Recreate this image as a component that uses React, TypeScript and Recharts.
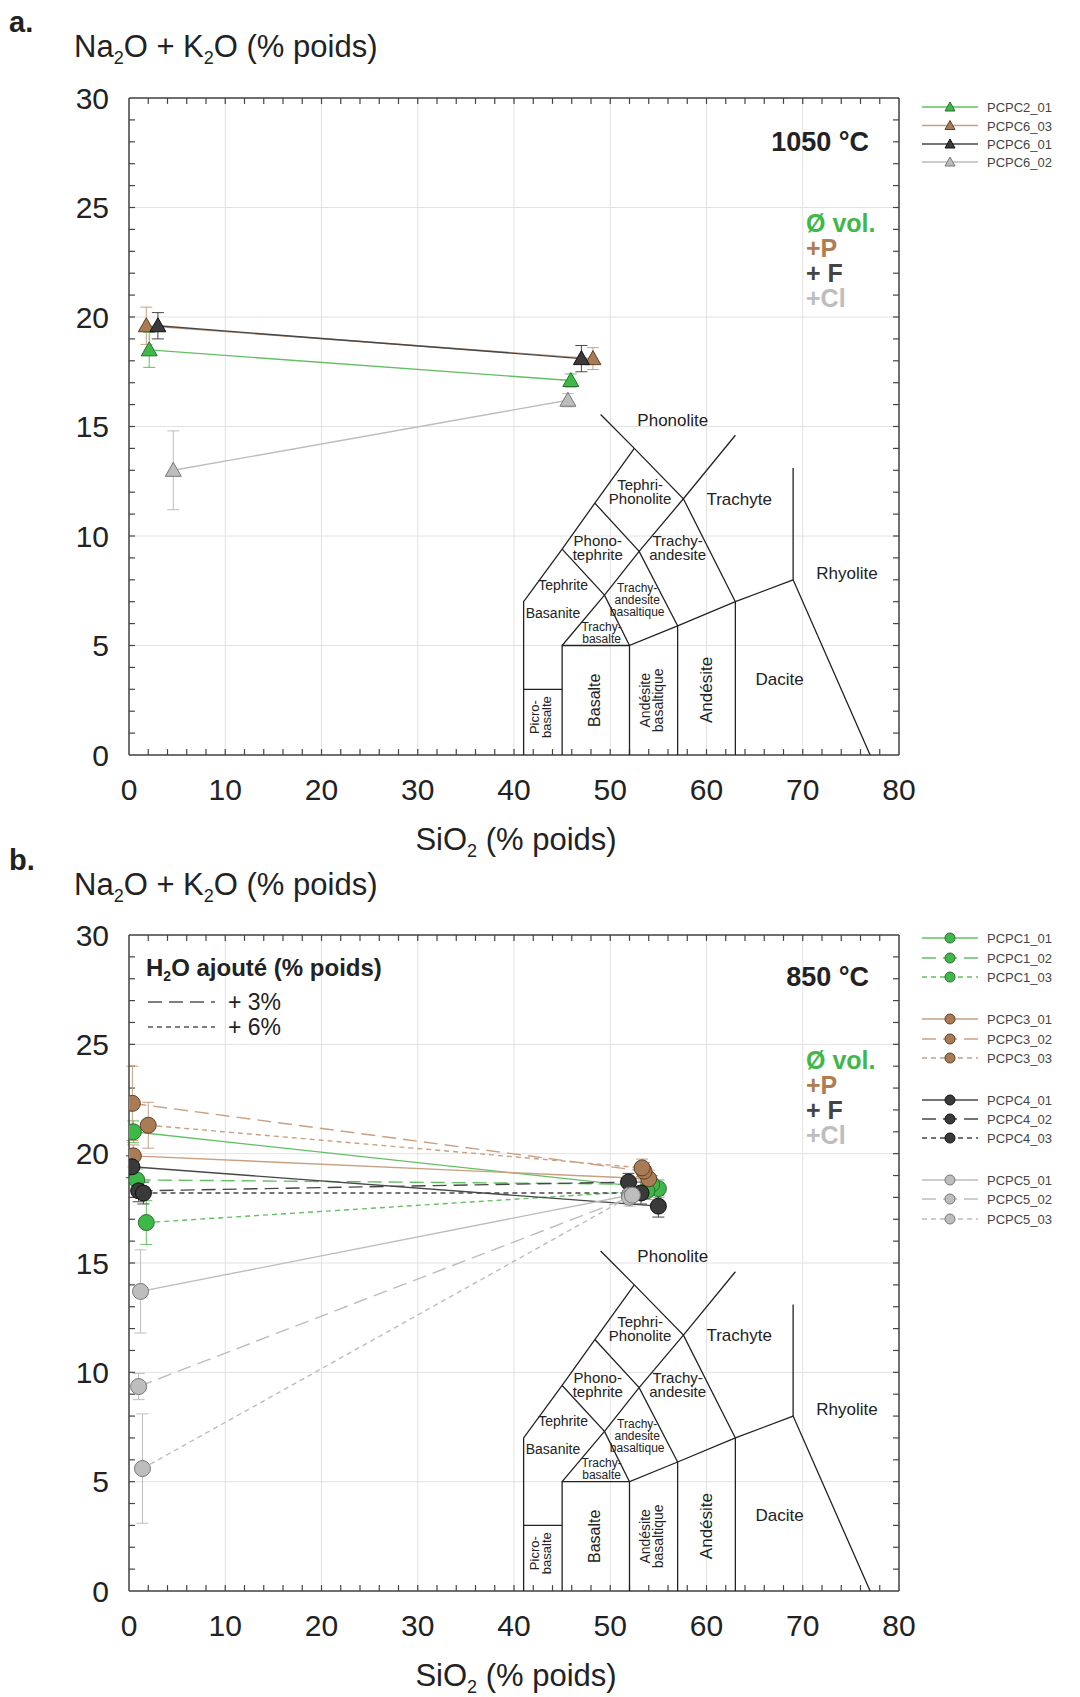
import React from "react";
import { ScatterChart, Scatter, XAxis, YAxis, CartesianGrid, ErrorBar, ReferenceLine } from "recharts";

type Pt = { x: number; y: number; e: number };

const X_TICKS = [0, 10, 20, 30, 40, 50, 60, 70, 80];
const X_MINOR = [2, 4, 6, 8, 10, 12, 14, 16, 18, 20, 22, 24, 26, 28, 30, 32, 34, 36, 38, 40, 42, 44, 46, 48, 50, 52, 54, 56, 58, 60, 62, 64, 66, 68, 70, 72, 74, 76, 78];
const Y_TICKS = [0, 5, 10, 15, 20, 25, 30];
const Y_MINOR = [1, 2, 3, 4, 5, 6, 7, 8, 9, 10, 11, 12, 13, 14, 15, 16, 17, 18, 19, 20, 21, 22, 23, 24, 25, 26, 27, 28, 29];

// a. 1050 °C
const PCPC2_01: Pt[] = [{ x: 2.1, y: 18.5, e: 0.8 }, { x: 45.9, y: 17.1, e: 0.3 }];
const PCPC6_03: Pt[] = [{ x: 1.8, y: 19.6, e: 0.85 }, { x: 48.2, y: 18.1, e: 0.5 }];
const PCPC6_01: Pt[] = [{ x: 3.0, y: 19.6, e: 0.6 }, { x: 47.0, y: 18.1, e: 0.6 }];
const PCPC6_02: Pt[] = [{ x: 4.6, y: 13.0, e: 1.8 }, { x: 45.6, y: 16.2, e: 0.3 }];

// b. 850 °C
const PCPC1_01: Pt[] = [{ x: 0.45, y: 21.0, e: 0.5 }, { x: 55.0, y: 18.4, e: 0.4 }];
const PCPC1_02: Pt[] = [{ x: 0.8, y: 18.8, e: 0.5 }, { x: 54.3, y: 18.6, e: 0.4 }];
const PCPC1_03: Pt[] = [{ x: 1.8, y: 16.85, e: 1.0 }, { x: 53.8, y: 18.3, e: 0.4 }];
const PCPC3_01: Pt[] = [{ x: 0.45, y: 19.9, e: 0.5 }, { x: 54.0, y: 18.85, e: 0.4 }];
const PCPC3_02: Pt[] = [{ x: 0.35, y: 22.3, e: 1.7 }, { x: 53.5, y: 19.2, e: 0.4 }];
const PCPC3_03: Pt[] = [{ x: 2.0, y: 21.3, e: 1.05 }, { x: 53.3, y: 19.35, e: 0.4 }];
const PCPC4_01: Pt[] = [{ x: 0.3, y: 19.4, e: 0.5 }, { x: 55.0, y: 17.6, e: 0.5 }];
const PCPC4_02: Pt[] = [{ x: 1.0, y: 18.3, e: 0.5 }, { x: 51.9, y: 18.7, e: 0.4 }];
const PCPC4_03: Pt[] = [{ x: 1.5, y: 18.2, e: 0.5 }, { x: 53.2, y: 18.2, e: 0.5 }];
const PCPC5_01: Pt[] = [{ x: 1.2, y: 13.7, e: 1.9 }, { x: 52.0, y: 18.1, e: 0.4 }];
const PCPC5_02: Pt[] = [{ x: 1.0, y: 9.35, e: 0.6 }, { x: 52.0, y: 18.0, e: 0.4 }];
const PCPC5_03: Pt[] = [{ x: 1.4, y: 5.6, e: 2.5 }, { x: 52.3, y: 18.1, e: 0.4 }];

// TAS field boundaries (SiO2, Na2O+K2O)
const TAS_LINES: [number, number][][] = [
  [[41, 0], [41, 7], [45, 9.4], [48.4, 11.5], [52.5, 14]],
  [[41, 3], [45, 3]],
  [[45, 0], [45, 5], [52, 5]],
  [[52, 0], [52, 5], [57, 5.9], [63, 7], [69, 8], [77, 0]],
  [[57, 0], [57, 5.9]],
  [[63, 0], [63, 7]],
  [[69, 8], [69, 13.1]],
  [[45, 5], [49.4, 7.3], [53, 9.3], [57.6, 11.7], [63, 14.6]],
  [[45, 9.4], [49.4, 7.3], [52, 5]],
  [[48.4, 11.5], [53, 9.3], [57, 5.9]],
  [[49, 15.55], [52.5, 14], [57.6, 11.7], [63, 7]],
];

const TAS_LABELS = [
  { x: 56.5, y: 15.3, t: ["Phonolite"], rot: 0, fs: 17, lh: 14 },
  { x: 63.4, y: 11.7, t: ["Trachyte"], rot: 0, fs: 17, lh: 14 },
  { x: 53.1, y: 12.0, t: ["Tephri-", "Phonolite"], rot: 0, fs: 15, lh: 14 },
  { x: 48.7, y: 9.45, t: ["Phono-", "tephrite"], rot: 0, fs: 15, lh: 14 },
  { x: 57.0, y: 9.45, t: ["Trachy-", "andesite"], rot: 0, fs: 15, lh: 14 },
  { x: 45.1, y: 7.75, t: ["Tephrite"], rot: 0, fs: 14, lh: 13 },
  { x: 44.05, y: 6.5, t: ["Basanite"], rot: 0, fs: 14, lh: 13 },
  { x: 52.8, y: 7.1, t: ["Trachy-", "andesite", "basaltique"], rot: 0, fs: 12, lh: 12 },
  { x: 49.1, y: 5.6, t: ["Trachy-", "basalte"], rot: 0, fs: 12, lh: 12 },
  { x: 74.6, y: 8.3, t: ["Rhyolite"], rot: 0, fs: 17, lh: 14 },
  { x: 67.6, y: 3.47, t: ["Dacite"], rot: 0, fs: 17, lh: 14 },
  { x: 42.7, y: 1.73, t: ["Picro-", "basalte"], rot: -90, fs: 13, lh: 12 },
  { x: 48.4, y: 2.5, t: ["Basalte"], rot: -90, fs: 16, lh: 13 },
  { x: 54.3, y: 2.5, t: ["Andésite", "basaltique"], rot: -90, fs: 14, lh: 13 },
  { x: 59.95, y: 2.97, t: ["Andésite"], rot: -90, fs: 17, lh: 14 },
];

const FONT = "'Liberation Sans', Arial, sans-serif";
const AXIS = "#444";
const GREEN = { fill: "#3fb84a", stroke: "#2b6e2e", line: "#62c063" };
const BROWN = { fill: "#a97c56", stroke: "#5e4027", line: "#c9a082" };
const DARK = { fill: "#3a3a3a", stroke: "#111111", line: "#474747" };
const GREY = { fill: "#bdbdbd", stroke: "#777777", line: "#bdbdbd" };
const DASH_3 = "14 7";
const DASH_6 = "5 4";
// inward tick length, in axis units (about 6 px)
const TICK_DX = 0.62;
const TICK_DY = 0.27;

type SeriesDef = { name: string; data: Pt[]; col: typeof GREEN; dash?: string };

const SERIES_A: SeriesDef[] = [
  { name: "PCPC2_01", data: PCPC2_01, col: GREEN },
  { name: "PCPC6_03", data: PCPC6_03, col: BROWN },
  { name: "PCPC6_01", data: PCPC6_01, col: DARK },
  { name: "PCPC6_02", data: PCPC6_02, col: GREY },
];

const SERIES_B: SeriesDef[] = [
  { name: "PCPC1_01", data: PCPC1_01, col: GREEN },
  { name: "PCPC1_02", data: PCPC1_02, col: GREEN, dash: DASH_3 },
  { name: "PCPC1_03", data: PCPC1_03, col: GREEN, dash: DASH_6 },
  { name: "PCPC3_01", data: PCPC3_01, col: BROWN },
  { name: "PCPC3_02", data: PCPC3_02, col: BROWN, dash: DASH_3 },
  { name: "PCPC3_03", data: PCPC3_03, col: BROWN, dash: DASH_6 },
  { name: "PCPC4_01", data: PCPC4_01, col: DARK },
  { name: "PCPC4_02", data: PCPC4_02, col: DARK, dash: DASH_3 },
  { name: "PCPC4_03", data: PCPC4_03, col: DARK, dash: DASH_6 },
  { name: "PCPC5_01", data: PCPC5_01, col: GREY },
  { name: "PCPC5_02", data: PCPC5_02, col: GREY, dash: DASH_3 },
  { name: "PCPC5_03", data: PCPC5_03, col: GREY, dash: DASH_6 },
];

function Triangle(p: any) {
  const { cx, cy, fill, stroke } = p;
  return <path d={`M${cx},${cy - 8} L${cx + 8},${cy + 6} L${cx - 8},${cy + 6} Z`} fill={fill} stroke={stroke} strokeWidth={1} />;
}

function Circle(p: any) {
  const { cx, cy, fill, stroke } = p;
  return <circle cx={cx} cy={cy} r={8} fill={fill} stroke={stroke} strokeWidth={1} />;
}

function TasText(p: any) {
  const { cx, cy, payload } = p;
  const n = payload.t.length;
  const first = -((n - 1) / 2) * payload.lh + payload.fs * 0.35;
  return (
    <text
      x={cx}
      y={cy}
      textAnchor="middle"
      fontSize={payload.fs}
      fill="#222"
      fontFamily={FONT}
      transform={payload.rot ? `rotate(${payload.rot} ${cx} ${cy})` : undefined}
    >
      {payload.t.map((s: string, i: number) => (
        <tspan key={i} x={cx} dy={i === 0 ? first : payload.lh}>
          {s}
        </tspan>
      ))}
    </text>
  );
}

const noDot = () => <g />;

function TasPanel({ top, height, marginTop, marginBottom, series, marker }: any) {
  return (
    <div style={{ position: "absolute", left: 0, top, width: 1080, height, fontFamily: FONT }}>
      <ScatterChart width={1080} height={height} margin={{ top: marginTop, right: 181, bottom: marginBottom, left: 69 }}>
        <CartesianGrid stroke="#e2e2e2" verticalValues={X_TICKS} horizontalValues={Y_TICKS} />
        <XAxis
          type="number"
          dataKey="x"
          domain={[0, 80]}
          ticks={X_TICKS}
          interval={0}
          allowDataOverflow
          height={60}
          tickSize={0}
          tickMargin={24}
          tick={{ fill: "#222", fontSize: 30 }}
          axisLine={{ stroke: AXIS, strokeWidth: 1.5 }}
        />
        <YAxis
          type="number"
          dataKey="y"
          domain={[0, 30]}
          ticks={Y_TICKS}
          interval={0}
          allowDataOverflow
          width={60}
          tickSize={0}
          tickMargin={20}
          tick={{ fill: "#222", fontSize: 30 }}
          axisLine={{ stroke: AXIS, strokeWidth: 1.5 }}
        />

        {/* frame top / right */}
        <ReferenceLine y={30} stroke={AXIS} strokeWidth={1.5} />
        <ReferenceLine x={80} stroke={AXIS} strokeWidth={1.5} />

        {/* inward minor ticks on all four sides */}
        {X_MINOR.map((v) => (
          <ReferenceLine key={`xb${v}`} segment={[{ x: v, y: 0 }, { x: v, y: TICK_DY }]} stroke={AXIS} strokeWidth={1.2} />
        ))}
        {X_MINOR.map((v) => (
          <ReferenceLine key={`xt${v}`} segment={[{ x: v, y: 30 }, { x: v, y: 30 - TICK_DY }]} stroke={AXIS} strokeWidth={1.2} />
        ))}
        {Y_MINOR.map((v) => (
          <ReferenceLine key={`yl${v}`} segment={[{ x: 0, y: v }, { x: TICK_DX, y: v }]} stroke={AXIS} strokeWidth={1.2} />
        ))}
        {Y_MINOR.map((v) => (
          <ReferenceLine key={`yr${v}`} segment={[{ x: 80, y: v }, { x: 80 - TICK_DX, y: v }]} stroke={AXIS} strokeWidth={1.2} />
        ))}

        {TAS_LINES.map((seg, i) => (
          <Scatter
            key={`tas${i}`}
            data={seg.map(([x, y]) => ({ x, y }))}
            fill="#222"
            line={{ stroke: "#222", strokeWidth: 1.3 }}
            shape={noDot}
            isAnimationActive={false}
          />
        ))}
        <Scatter data={TAS_LABELS} fill="#222" shape={TasText} isAnimationActive={false} />

        {series.map((s: SeriesDef) => (
          <Scatter
            key={s.name}
            name={s.name}
            data={s.data}
            fill={s.col.fill}
            stroke={s.col.stroke}
            line={{ stroke: s.col.line, strokeWidth: 1.4, strokeDasharray: s.dash }}
            shape={marker}
            isAnimationActive={false}
          >
            <ErrorBar dataKey="e" direction="y" width={6} stroke={s.col.line} strokeWidth={1} />
          </Scatter>
        ))}
      </ScatterChart>
    </div>
  );
}

function LegendRows({ items, ys, marker }: { items: SeriesDef[]; ys: number[]; marker: "tri" | "circ" }) {
  return (
    <g>
      {items.map((s, i) => {
        const y = ys[i];
        return (
          <g key={s.name}>
            <line x1={922} x2={978} y1={y} y2={y} stroke={s.col.line} strokeWidth={1.4} strokeDasharray={s.dash} />
            {marker === "tri" ? (
              <path d={`M950,${y - 5} L955,${y + 4} L945,${y + 4} Z`} fill={s.col.fill} stroke={s.col.stroke} />
            ) : (
              <circle cx={950} cy={y} r={5} fill={s.col.fill} stroke={s.col.stroke} />
            )}
            <text x={987} y={y + 5} fontSize={13} fill="#444">
              {s.name}
            </text>
          </g>
        );
      })}
    </g>
  );
}

function AxisTitle({ x, y }: { x: number; y: number }) {
  return (
    <text x={x} y={y} fontSize={31} fill="#222">
      Na<tspan fontSize={18} dy={7}>2</tspan>
      <tspan dy={-7}>O + K</tspan>
      <tspan fontSize={18} dy={7}>2</tspan>
      <tspan dy={-7}>O (% poids)</tspan>
    </text>
  );
}

function XTitle({ cx, y }: { cx: number; y: number }) {
  return (
    <text x={cx} y={y} fontSize={31} fill="#222" textAnchor="middle">
      SiO<tspan fontSize={18} dy={7}>2</tspan>
      <tspan dy={-7}> (% poids)</tspan>
    </text>
  );
}

function Additives({ x, ys }: { x: number; ys: number[] }) {
  return (
    <g fontWeight="bold" fontSize={25}>
      <text x={x} y={ys[0]} fill="#3fb84a">Ø vol.</text>
      <text x={x} y={ys[1]} fill="#b07c52">+P</text>
      <text x={x} y={ys[2]} fill="#444">+ F</text>
      <text x={x} y={ys[3]} fill="#bdbdbd">+Cl</text>
    </g>
  );
}

export default function App() {
  return (
    <div style={{ position: "absolute", left: 0, top: 0, width: 1080, height: 1697, background: "#fff", overflow: "hidden" }}>
      <TasPanel top={0} height={870} marginTop={98} marginBottom={55} series={SERIES_A} marker={Triangle} />
      <TasPanel top={850} height={847} marginTop={85} marginBottom={46} series={SERIES_B} marker={Circle} />
      <svg width={1080} height={1697} style={{ position: "absolute", left: 0, top: 0, pointerEvents: "none" }} fontFamily={FONT}>
        <text x={9} y={32} fontSize={29} fontWeight="bold" fill="#222">a.</text>
        <AxisTitle x={74} y={57} />
        <XTitle cx={516} y={850} />
        <text x={869} y={151} fontSize={27} fontWeight="bold" fill="#222" textAnchor="end">1050 °C</text>
        <Additives x={806} ys={[232, 257, 282, 307]} />
        <LegendRows items={SERIES_A} ys={[107, 125.5, 144, 162]} marker="tri" />

        <text x={9} y={870} fontSize={29} fontWeight="bold" fill="#222">b.</text>
        <AxisTitle x={74} y={895} />
        <XTitle cx={516} y={1686} />
        <text x={869} y={986} fontSize={27} fontWeight="bold" fill="#222" textAnchor="end">850 °C</text>
        <Additives x={806} ys={[1069, 1094, 1119, 1144]} />
        <text x={146} y={976} fontSize={24} fontWeight="bold" fill="#222">
          H<tspan fontSize={14} dy={5}>2</tspan>
          <tspan dy={-5}>O ajouté (% poids)</tspan>
        </text>
        <line x1={148} x2={215} y1={1002} y2={1002} stroke="#555" strokeWidth={1.4} strokeDasharray={DASH_3} />
        <text x={228} y={1010} fontSize={23} fill="#222">+ 3%</text>
        <line x1={148} x2={215} y1={1027} y2={1027} stroke="#555" strokeWidth={1.4} strokeDasharray={DASH_6} />
        <text x={228} y={1035} fontSize={23} fill="#222">+ 6%</text>
        <LegendRows
          items={SERIES_B}
          ys={[938, 958, 977, 1019, 1039, 1058, 1100, 1119, 1138, 1180, 1199, 1219]}
          marker="circ"
        />
      </svg>
    </div>
  );
}
